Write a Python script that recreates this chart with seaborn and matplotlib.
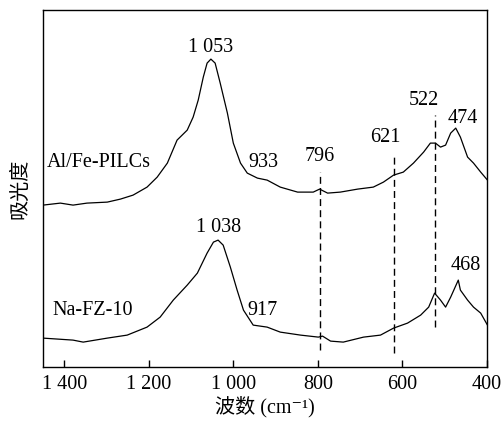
import matplotlib
matplotlib.use('Agg')
import matplotlib.pyplot as plt
import numpy as np
import pandas as pd
import seaborn as sns

# 数据（从图中读取，吸光度为任意单位）
wn_pilc = [1450, 1409, 1379, 1346, 1298, 1267, 1237, 1204, 1180, 1156, 1133, 1109, 1095, 1083,
           1071, 1062, 1053, 1043, 1031, 1014, 1000, 983, 967, 943, 920, 889, 848, 811, 796,
           777, 747, 706, 669, 645, 621, 598, 574, 550, 534, 522, 510, 498, 486, 474, 463,
           446, 432, 415, 399]
abs_pilc = [162, 164, 162, 164, 165, 168, 172, 180, 190, 204, 227, 237, 250, 267,
            290, 304, 308, 304, 284, 254, 224, 204, 194, 189, 187, 180, 175, 175, 178,
            174, 175, 178, 180, 185, 192, 195, 204, 215, 224, 224, 220, 222, 234, 239, 230,
            210, 204, 195, 187]

wn_fz = [1450, 1379, 1355, 1298, 1251, 1204, 1173, 1142, 1109, 1085, 1062, 1047, 1036, 1024,
         1007, 991, 976, 953, 920, 889, 841, 799, 789, 770, 740, 692, 652, 621, 588, 557,
         538, 524, 510, 498, 486, 468, 463, 446, 432, 415, 399]
abs_fz = [29, 27, 25, 29, 32, 40, 50, 67, 82, 94, 114, 125, 127, 122,
          100, 77, 57, 42, 40, 35, 32, 30, 31, 26, 25, 30, 32, 39, 44, 52,
          60, 74, 67, 60, 70, 87, 77, 67, 60, 54, 42]

# 虚线位置及上下端
vlines_x = [796, 621, 522]
vlines_top = [195, 214, 252]
vlines_bottom = [17, 14, 40]

xticks = [1400, 1200, 1000, 800, 600, 400]
xtick_labels = ['1 400', '1 200', '1 000', '800', '600', '400']

sns.set_style('ticks')
plt.rcParams['font.family'] = ['Liberation Serif', 'Noto Sans CJK SC', 'DejaVu Serif']
plt.rcParams['text.color'] = 'black'
plt.rcParams['axes.labelcolor'] = 'black'
plt.rcParams['xtick.color'] = 'black'
plt.rcParams['ytick.color'] = 'black'

df1 = pd.DataFrame({'wn': wn_pilc, 'A': abs_pilc})
df2 = pd.DataFrame({'wn': wn_fz, 'A': abs_fz})

fig = plt.figure(figsize=(5.02, 4.21), dpi=100)
ax = fig.add_axes([0.0857, 0.128, 0.8845, 0.848])

sns.lineplot(data=df1, x='wn', y='A', sort=False, color='black', linewidth=0.9, ax=ax)
sns.lineplot(data=df2, x='wn', y='A', sort=False, color='black', linewidth=0.9, ax=ax)

for x, t, b in zip(vlines_x, vlines_top, vlines_bottom):
    ax.plot([x, x], [b, t], color='black', linestyle=(0, (5, 3)), linewidth=1.0)

fs = 14.5
# 上曲线标注
ax.text(1053, 320, '1 053', ha='center', va='center', fontsize=fs)
ax.text(929, 205, '933', ha='center', va='center', fontsize=fs)
ax.text(796, 211, '796', ha='center', va='center', fontsize=fs)
ax.text(640, 230, '621', ha='center', va='center', fontsize=fs)
ax.text(550, 267, '522', ha='center', va='center', fontsize=fs)
ax.text(458, 249, '474', ha='center', va='center', fontsize=fs)
ax.text(1440, 205, 'Al/Fe-PILCs', ha='left', va='center', fontsize=fs)
# 下曲线标注
ax.text(1036, 140, '1 038', ha='center', va='center', fontsize=fs)
ax.text(931, 57, '917', ha='center', va='center', fontsize=fs)
ax.text(451, 102, '468', ha='center', va='center', fontsize=fs)
ax.text(1428, 57, 'Na-FZ-10', ha='left', va='center', fontsize=fs)

ax.set_xlim(1450, 400)
ax.set_ylim(0, 357)
ax.set_xticks(xticks)
ax.set_xticklabels(xtick_labels, fontsize=fs)
ax.set_yticks([])
ax.tick_params(axis='x', direction='in', length=5, width=1, pad=6)
for s in ax.spines.values():
    s.set_linewidth(1.0)
    s.set_color('black')

ax.set_xlabel('波数 (cm⁻¹)', fontsize=fs, labelpad=1)
ax.set_ylabel('吸光度', fontsize=fs, labelpad=9)

fig.savefig('out.png', dpi=100)
